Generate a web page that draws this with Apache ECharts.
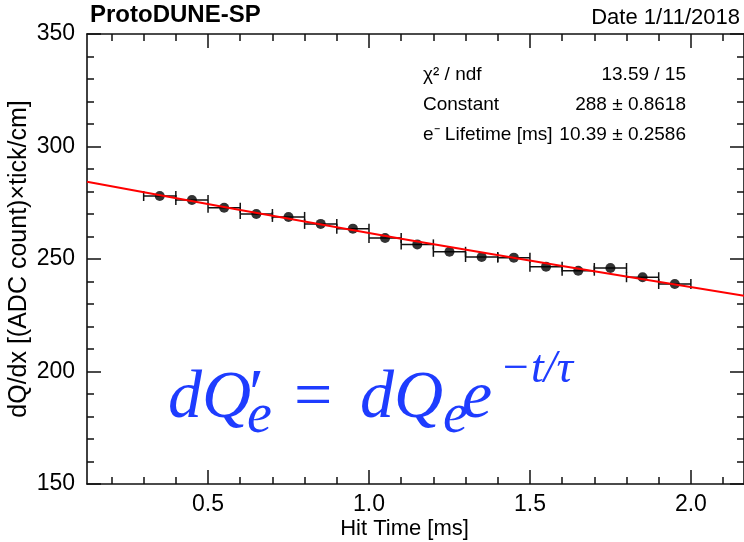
<!DOCTYPE html>
<html>
<head>
<meta charset="utf-8">
<title>ProtoDUNE-SP electron lifetime</title>
<script src="https://cdn.jsdelivr.net/npm/echarts@6/dist/echarts.min.js"></script>
<style>
  html, body { margin: 0; padding: 0; background: #fff; }
  #chart-main { width: 744px; height: 542px; }
</style>
</head>
<body>
<div id="chart-main"></div>
<script>
// hit time bin centres [ms] and the mean dQ/dx in each bin
const hitTime = [0.35, 0.45, 0.55, 0.65, 0.75, 0.85, 0.95, 1.05, 1.15,
  1.25, 1.35, 1.45, 1.55, 1.65, 1.75, 1.85, 1.95]
const dqdx = [278.0, 276.2, 272.8, 270.0, 268.7, 265.6, 263.5, 259.3, 256.5,
  253.2, 250.9, 250.6, 246.6, 244.8, 246.0, 241.9, 238.9]
const binHalfWidth = 0.05

// red fit curve
const fitTime = [0.124, 0.6, 1.1, 1.6, 2.165]
const fitDqdx = [284.3, 271.8, 259.0, 246.9, 233.7]

// axis ticks
const xMajorTicks = [0.5, 1.0, 1.5, 2.0]
const xMinorTicks = [0.2, 0.3, 0.4, 0.6, 0.7, 0.8, 0.9, 1.1, 1.2, 1.3, 1.4,
  1.6, 1.7, 1.8, 1.9, 2.1]
const xMin = 0.124
const xMax = 2.165

// stats box
const statNames = ['χ² / ndf', 'Constant', 'e⁻ Lifetime [ms]']
const statValues = ['13.59 / 15', '288 ± 0.8618', '10.39 ± 0.2586']

const sans = "'Liberation Sans', Arial, Helvetica, sans-serif"
const serif = "'Liberation Serif', 'DejaVu Serif', 'Times New Roman', serif"
const ink = '#111'
const blue = '#1e3cff'

function xAxisOf(position, ticks, len, showLine, showLabel) {
  return {
    type: 'value',
    position: position,
    min: xMin,
    max: xMax,
    axisLine: { show: showLine, onZero: false, lineStyle: { color: ink, width: 1.6 } },
    axisTick: { show: true, inside: true, length: len, customValues: ticks,
      lineStyle: { color: ink, width: 1.5 } },
    axisLabel: { show: showLabel, customValues: ticks, margin: 9,
      formatter: (v) => v.toFixed(1),
      fontFamily: sans, fontSize: 23, color: '#000' },
    splitLine: { show: false }
  }
}

function yAxisOf(position, showLabel) {
  return {
    type: 'value',
    position: position,
    min: 150,
    max: 350,
    interval: 50,
    axisLine: { show: true, onZero: false, lineStyle: { color: ink, width: 1.6 } },
    axisTick: { show: true, inside: true, length: 14, lineStyle: { color: ink, width: 1.5 } },
    minorTick: { show: true, splitNumber: 5, length: 7, lineStyle: { color: ink, width: 1.5 } },
    axisLabel: { show: showLabel, margin: 12, fontFamily: sans, fontSize: 23, color: '#000' },
    splitLine: { show: false },
    minorSplitLine: { show: false }
  }
}

const xBottom = xAxisOf('bottom', xMajorTicks, 14, true, true)
xBottom.name = 'Hit Time [ms]'
xBottom.nameLocation = 'middle'
xBottom.nameGap = 34
xBottom.nameMoveOverlap = false
xBottom.nameTextStyle = { fontFamily: sans, fontSize: 22, color: '#000', padding: [0, 22, 0, 0] }

const yLeft = yAxisOf('left', true)
yLeft.name = 'dQ/dx [(ADC count)×tick/cm]'
yLeft.nameLocation = 'middle'
yLeft.nameGap = 55
yLeft.nameMoveOverlap = false
yLeft.nameTextStyle = { fontFamily: sans, fontSize: 25, color: '#000' }

// pieces of the formula, laid out like the LaTeX in the picture
function formulaText(text, x, baseline, size, italic) {
  return {
    type: 'text', x: x, y: baseline - 0.35 * size, z: 100,
    style: { text: text, fill: blue, verticalAlign: 'middle', align: 'left',
      font: (italic ? 'italic ' : '') + size + 'px ' + serif }
  }
}

const statsText = []
statNames.forEach((name, i) => {
  statsText.push({ type: 'text', x: 423, y: 75 + 30 * i, z: 100,
    style: { text: name, fill: '#000', verticalAlign: 'middle', align: 'left',
      font: '19px ' + sans } })
  statsText.push({ type: 'text', x: 686, y: 75 + 30 * i, z: 100,
    style: { text: statValues[i], fill: '#000', verticalAlign: 'middle', align: 'right',
      font: '19px ' + sans } })
})

const chart = echarts.init(document.getElementById('chart-main'), null, { renderer: 'canvas' })
chart.setOption({
  animation: false,
  backgroundColor: '#fff',
  grid: { left: 87, right: 0, top: 34, bottom: 58, containLabel: false, outerBoundsMode: 'none' },
  xAxis: [
    xBottom,
    xAxisOf('bottom', xMinorTicks, 7, false, false),
    xAxisOf('top', xMajorTicks, 14, true, false),
    xAxisOf('top', xMinorTicks, 7, false, false)
  ],
  yAxis: [yLeft, yAxisOf('right', false)],
  graphic: [
    { type: 'text', x: 90, y: 15, z: 100,
      style: { text: 'ProtoDUNE-SP', fill: '#000', verticalAlign: 'middle', align: 'left',
        font: 'bold 24px ' + sans } },
    { type: 'text', x: 740, y: 18, z: 100,
      style: { text: 'Date 1/11/2018', fill: '#000', verticalAlign: 'middle', align: 'right',
        font: '22px ' + sans } },
    ...statsText,
    formulaText('dQ', 168, 423, 68, true),
    formulaText('′', 249, 421, 68, false),
    formulaText('e', 247, 437, 56, true),
    formulaText('=', 294, 423, 68, false),
    formulaText('dQ', 360, 423, 68, true),
    formulaText('e', 443, 437, 56, true),
    formulaText('e', 462, 423, 68, true),
    formulaText('−t/τ', 500, 386, 46, true)
  ],
  series: [
    {
      type: 'custom',
      name: 'x errors',
      data: hitTime.map((t, i) => [t, dqdx[i]]),
      renderItem: (params, api) => {
        const y = api.value(1)
        const a = api.coord([api.value(0) - binHalfWidth, y])
        const b = api.coord([api.value(0) + binHalfWidth, y])
        const cap = 5
        const style = { stroke: ink, lineWidth: 1.5 }
        return {
          type: 'group',
          children: [
            { type: 'line', shape: { x1: a[0], y1: a[1], x2: b[0], y2: b[1] }, style },
            { type: 'line', shape: { x1: a[0], y1: a[1] - cap, x2: a[0], y2: a[1] + cap }, style },
            { type: 'line', shape: { x1: b[0], y1: b[1] - cap, x2: b[0], y2: b[1] + cap }, style }
          ]
        }
      },
      z: 2
    },
    {
      type: 'scatter',
      name: 'dQ/dx',
      data: hitTime.map((t, i) => [t, dqdx[i]]),
      symbol: 'circle',
      symbolSize: 10,
      itemStyle: { color: '#000' },
      z: 3
    },
    {
      type: 'line',
      name: 'fit',
      data: fitTime.map((t, i) => [t, fitDqdx[i]]),
      showSymbol: false,
      lineStyle: { color: '#ff0000', width: 2 },
      z: 4
    }
  ]
})
</script>
</body>
</html>
